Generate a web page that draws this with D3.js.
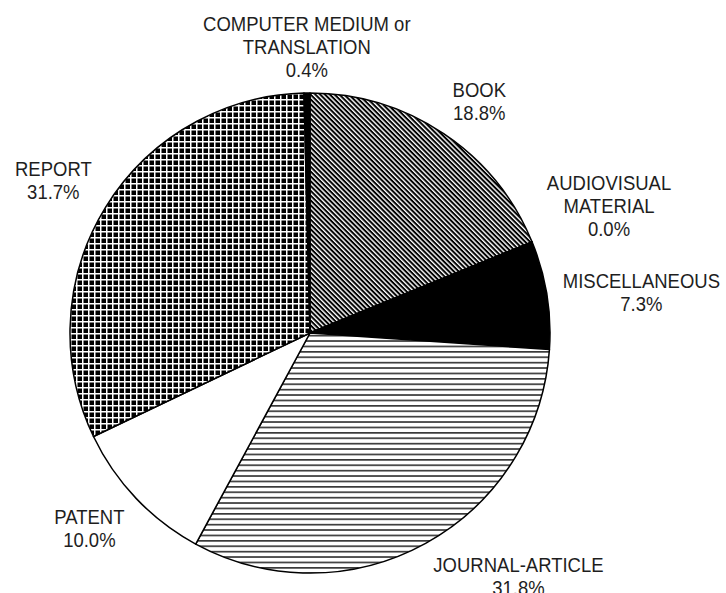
<!DOCTYPE html>
<html>
<head>
<meta charset="utf-8">
<script src="https://cdn.jsdelivr.net/npm/d3@7"></script>
<style>
  html, body { margin: 0; padding: 0; background: #fff; }
  svg { display: block; }
  text { font-family: "Liberation Sans", Arial, Helvetica, sans-serif; fill: #1e1e1e; }
</style>
</head>
<body>
<svg id="chart" width="726" height="593"></svg>
<script>
// ---- data ----
const categories = ["BOOK", "AUDIOVISUAL MATERIAL", "MISCELLANEOUS", "JOURNAL-ARTICLE", "PATENT", "REPORT", "COMPUTER MEDIUM or TRANSLATION"];
const labelLines = [["BOOK"], ["AUDIOVISUAL", "MATERIAL"], ["MISCELLANEOUS"], ["JOURNAL-ARTICLE"], ["PATENT"], ["REPORT"], ["COMPUTER MEDIUM or", "TRANSLATION"]];
const values = [18.8, 0.0, 7.3, 31.8, 10.0, 31.7, 0.4];
const fillKeys = ["diag", "white", "black", "hlines", "white", "grid", "black"];

// ---- layout ----
const W = 726, H = 593;
const cx = 310, cy = 333, R = 240;
const labelR = R + 16;
const fontSize = 18.5, yScale = 1.1, lineH = 23;
const capH = 0.716 * fontSize * yScale;

const svg = d3.select("#chart");
const defs = svg.append("defs");

// diagonal "\" stripes
const pd = defs.append("pattern").attr("id", "diag").attr("patternUnits", "userSpaceOnUse")
  .attr("width", 8).attr("height", 3.4).attr("patternTransform", "rotate(45)");
pd.append("rect").attr("width", 8).attr("height", 3.4).attr("fill", "#fff");
pd.append("rect").attr("y", 0).attr("width", 8).attr("height", 2.0).attr("fill", "#000");

// horizontal lines
const ph = defs.append("pattern").attr("id", "hlines").attr("patternUnits", "userSpaceOnUse")
  .attr("width", 8).attr("height", 5.4);
ph.append("rect").attr("width", 8).attr("height", 5.4).attr("fill", "#fff");
ph.append("rect").attr("y", 2).attr("width", 8).attr("height", 1.3).attr("fill", "#000");

// grid: black squares with white lines
const pg = defs.append("pattern").attr("id", "grid").attr("patternUnits", "userSpaceOnUse")
  .attr("width", 6).attr("height", 6);
pg.append("rect").attr("width", 6).attr("height", 6).attr("fill", "#000");
pg.append("rect").attr("x", 0).attr("width", 1.5).attr("height", 6).attr("fill", "#fff");
pg.append("rect").attr("y", 0).attr("width", 6).attr("height", 1.5).attr("fill", "#fff");

const fillFor = k => k === "white" ? "#fff" : k === "black" ? "#000" : `url(#${k})`;

const pie = d3.pie().sort(null).value(d => d).startAngle(0).endAngle(2 * Math.PI);
const arcs = pie(values);
const arc = d3.arc().innerRadius(0).outerRadius(R);

const g = svg.append("g").attr("transform", `translate(${cx},${cy})`);
g.selectAll("path.slice").data(arcs).enter().append("path")
  .attr("class", "slice")
  .attr("d", arc)
  .attr("fill", (d, i) => fillFor(fillKeys[i]))
  .attr("stroke", "#000")
  .attr("stroke-width", 1.5)
  .attr("stroke-linejoin", "round");

// ---- labels ----
const fmt = d3.format(".1f");
arcs.forEach((d, i) => {
  const a = (d.startAngle + d.endAngle) / 2;
  const s = Math.sin(a), c = Math.cos(a);
  const ax = cx + labelR * s, ay = cy - labelR * c;
  const lines = labelLines[i].concat([fmt(values[i]) + "%"]);
  const lg = svg.append("g");
  const t = lg.append("text").attr("text-anchor", "middle").style("font-size", fontSize + "px");
  lines.forEach((ln, j) => {
    t.append("tspan").attr("x", 0).attr("y", j * lineH / yScale).text(ln);
  });
  let w = 0;
  t.selectAll("tspan").each(function () { w = Math.max(w, this.getComputedTextLength()); });
  const h = capH + (lines.length - 1) * lineH;
  const fx = Math.abs(s) < 0.2 ? 0.5 : (s > 0 ? 0 : 1);
  const fy = Math.abs(c) < 0.2 ? 0.5 : (c > 0 ? 1 : 0);
  const left = ax - fx * w, top = ay - fy * h;
  lg.attr("transform", `translate(${left + w / 2},${top + capH}) scale(1,${yScale})`);
});
</script>
</body>
</html>
